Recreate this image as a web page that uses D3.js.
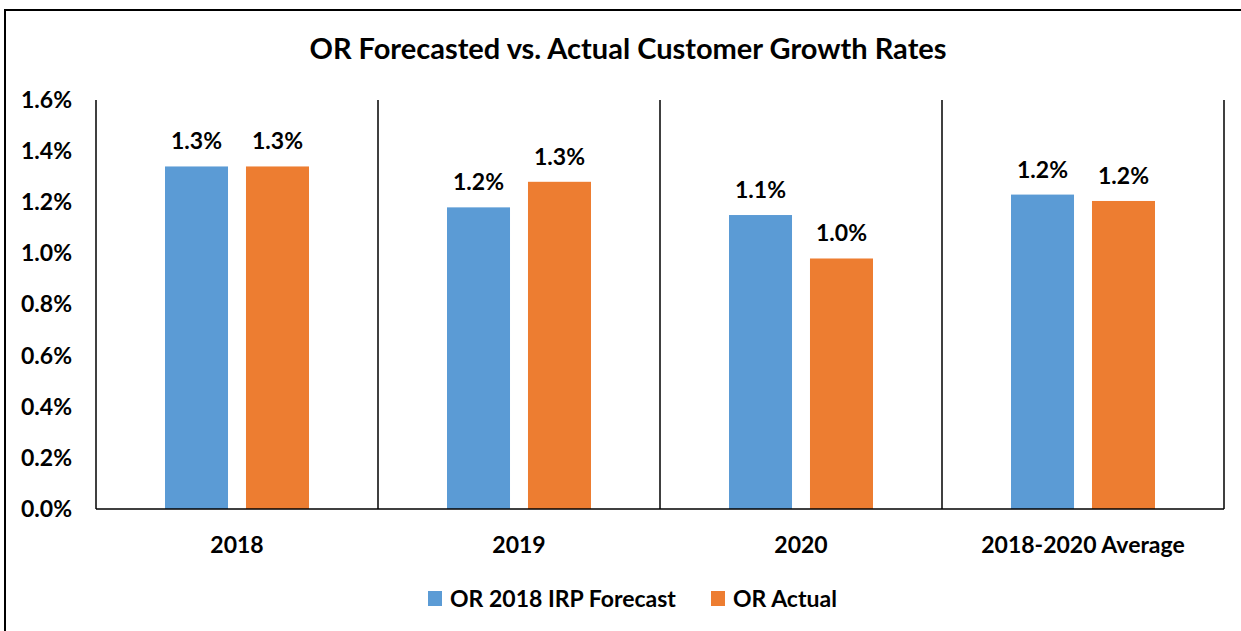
<!DOCTYPE html>
<meta charset="utf-8">
<style>
body { margin: 0; background: #fff; }
svg text { font-family: Lato, "Liberation Sans", sans-serif; font-weight: bold; fill: #000; }
</style>
<body>
<svg width="1241" height="631"></svg>
<script src="https://d3js.org/d3.v7.min.js"></script>
<script>
var categories = ["2018", "2019", "2020", "2018-2020 Average"];
var seriesNames = ["OR 2018 IRP Forecast", "OR Actual"];
var forecast = [1.34, 1.18, 1.15, 1.23];
var actual = [1.34, 1.28, 0.98, 1.205];
var yTicks = [0, 0.2, 0.4, 0.6, 0.8, 1.0, 1.2, 1.4, 1.6];
var colors = ["#5B9BD5", "#ED7D31"];

var svg = d3.select("svg"),
    margin = {top: 100, right: 17, bottom: 122, left: 96},
    width = +svg.attr("width") - margin.left - margin.right,
    height = +svg.attr("height") - margin.top - margin.bottom;

// chart frame (top & left edges visible, rest runs off the picture)
svg.append("rect")
    .attr("x", 5).attr("y", 10)
    .attr("width", 1260).attr("height", 640)
    .attr("fill", "none").attr("stroke", "#000").attr("stroke-width", 2);

svg.append("text")
    .attr("x", 628).attr("y", 59)
    .attr("text-anchor", "middle")
    .style("font-size", "29px")
    .text("OR Forecasted vs. Actual Customer Growth Rates");

var g = svg.append("g")
    .attr("transform", "translate(" + margin.left + "," + margin.top + ")");

var x0 = d3.scaleBand().domain(categories).range([0, width]);
var x1 = d3.scaleBand().domain(seriesNames).range([69, 213]).paddingInner(0.222);
var y = d3.scaleLinear().domain([0, 1.6]).range([height, 0]);

var data = categories.map(function(c, i) {
  return {cat: c, vals: [{s: seriesNames[0], v: forecast[i]}, {s: seriesNames[1], v: actual[i]}]};
});

// y labels
g.append("g")
    .call(d3.axisLeft(y).tickValues(yTicks).tickFormat(function(d) { return d.toFixed(1) + "%"; }).tickSize(0).tickPadding(24))
    .call(function(a) { a.select(".domain").remove(); })
    .selectAll("text")
    .style("font-size", "23px").style("font-family", "Lato, sans-serif").style("font-weight", "bold");

// bars
var grp = g.selectAll(".cat").data(data).enter().append("g")
    .attr("transform", function(d) { return "translate(" + x0(d.cat) + ",0)"; });

grp.selectAll("rect").data(function(d) { return d.vals; }).enter().append("rect")
    .attr("x", function(d) { return x1(d.s); })
    .attr("width", x1.bandwidth())
    .attr("y", function(d) { return y(d.v); })
    .attr("height", function(d) { return height - y(d.v); })
    .attr("fill", function(d, i) { return colors[i]; });

grp.selectAll(".lbl").data(function(d) { return d.vals; }).enter().append("text")
    .attr("x", function(d) { return x1(d.s) + x1.bandwidth() / 2; })
    .attr("y", function(d) { return y(d.v) - 17; })
    .attr("text-anchor", "middle")
    .style("font-size", "23px")
    .text(function(d) { return d.v.toFixed(1) + "%"; });

// separators
var edges = categories.map(function(c) { return x0(c); }).concat([width]);
g.selectAll(".sep").data(edges).enter().append("line")
    .attr("x1", function(d) { return d; }).attr("x2", function(d) { return d; })
    .attr("y1", y(1.6)).attr("y2", height)
    .attr("stroke", "#000").attr("stroke-width", 1.5);

g.append("line")
    .attr("x1", 0).attr("x2", width)
    .attr("y1", height).attr("y2", height)
    .attr("stroke", "#000").attr("stroke-width", 1.5);

// x labels
g.append("g")
    .attr("transform", "translate(0," + height + ")")
    .call(d3.axisBottom(x0).tickSize(0).tickPadding(28))
    .call(function(a) { a.select(".domain").remove(); })
    .selectAll("text")
    .style("font-size", "23px").style("font-family", "Lato, sans-serif").style("font-weight", "bold");

// legend
var legend = svg.append("g");
var lx = [428, 711];
seriesNames.forEach(function(s, i) {
  legend.append("rect")
      .attr("x", lx[i]).attr("y", 591).attr("width", 14).attr("height", 15)
      .attr("fill", colors[i]);
  legend.append("text")
      .attr("x", lx[i] + 22).attr("y", 607)
      .style("font-size", "23px")
      .text(s);
});
</script>
</body>
</html>
